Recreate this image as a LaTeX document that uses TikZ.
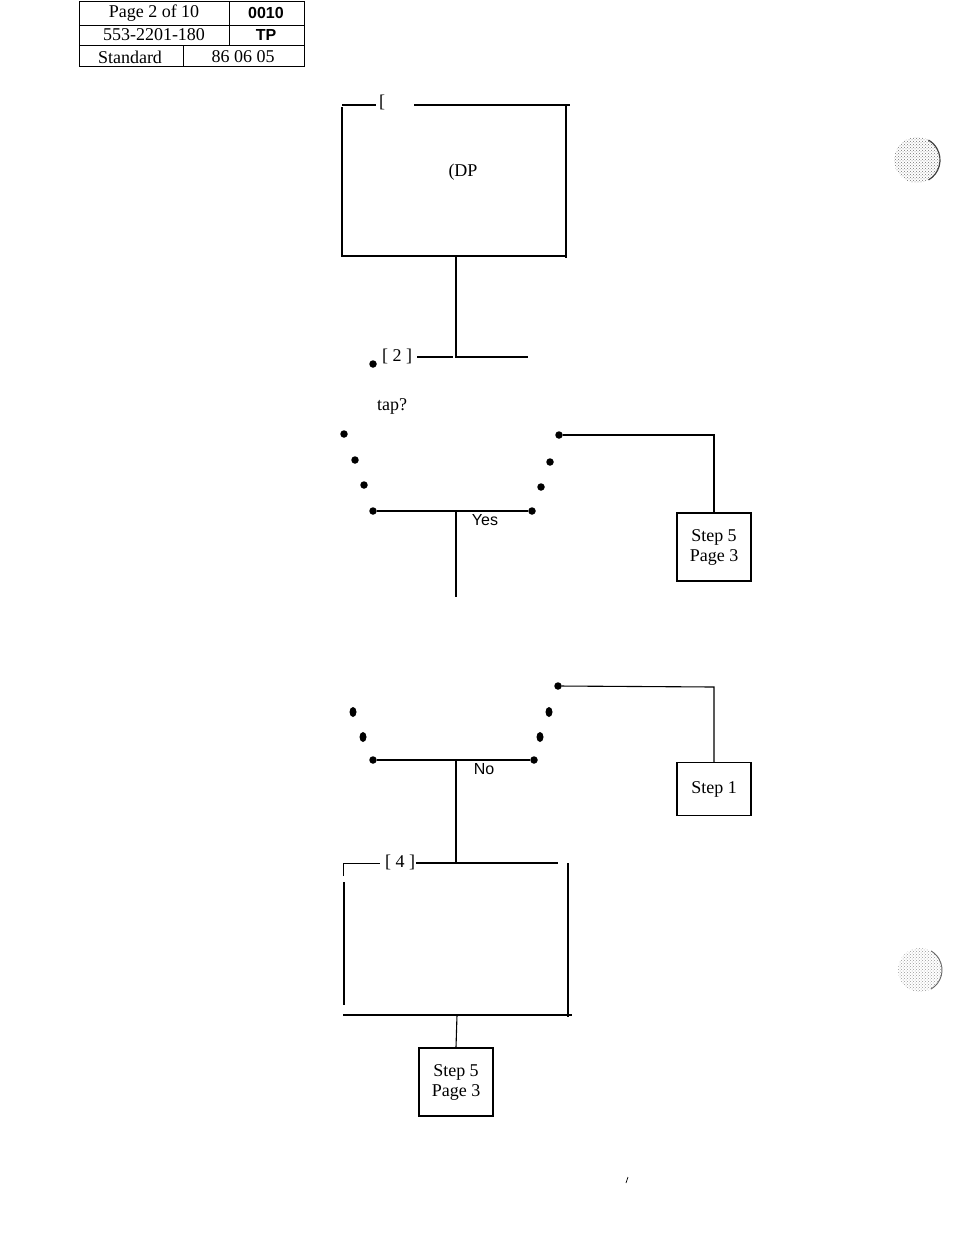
\documentclass[tikz,border=0pt]{standalone}
\usepackage{fontspec}
\setmainfont{Liberation Serif}
\newfontfamily\hsans{Liberation Sans}
\usetikzlibrary{patterns,shapes.geometric}
\begin{document}
\begin{tikzpicture}[x=1pt,y=-1pt,
  txt/.style={font=\fontsize{18}{20}\selectfont, inner sep=0pt},
  stxt/.style={font=\hsans\fontsize{16}{18}\selectfont, inner sep=0pt},
  htxt/.style={font=\hsans\bfseries\fontsize{16}{18}\selectfont, inner sep=0pt},
  stepbox/.style={draw, line width=1.2pt, minimum width=74pt, minimum height=68pt, inner sep=0pt, align=center, font=\fontsize{18}{20}\selectfont},
  ln/.style={line width=1.1pt},
  thk/.style={line width=2pt},
  dotn/.style={circle, fill=black, inner sep=0pt, minimum size=7.5pt},
  edot/.style={ellipse, fill=black, inner sep=0pt, minimum width=7pt, minimum height=10pt}]
\useasboundingbox (0,0) rectangle (956,1235);
% header table
\draw[line width=1pt] (79,1) rectangle (304,66);
\draw[line width=1pt] (79,25) -- (304,25) (79,45) -- (304,45);
\draw[line width=1pt] (229,1) -- (229,45) (183,45) -- (183,66);
\node[txt] (h1) at (154,13) {Page 2 of 10};
\node[htxt] (h2) at (266,13) {0010};
\node[txt] (h3) at (154,35) {553-2201-180};
\node[htxt] (h4) at (266,35) {TP};
\node[txt] (h5) at (130,57) {Standard};
\node[txt] (h6) at (243,57) {86 06 05};
% top box
\draw[thk] (342,105) -- (376,105);
\node[txt] (b1lab) at (382,102) {[};
\draw[thk] (414,105) -- (570,105);
\draw[thk] (566,105) -- (566,258);
\draw[ln] (342,107) -- (342,256) -- (566,256);
\node[txt] (b1t) at (463,172) {(DP};
\coordinate (b1b) at (456,256);
% decision 2
\coordinate (j2) at (456,357);
\draw[ln] (b1b) -- (j2) -- (528,357);
\draw[thk] (417,357) -- (453,357);
\node[txt] (d2lab) at (397,356) {[ 2 ]};
\node[dotn] (d2dot) at (373,364) {};
\node[txt] (tap) at (392,406) {tap?};
\node[dotn] (l1) at (344,434) {};
\node[dotn] (l2) at (355,460) {};
\node[dotn] (l3) at (364,485) {};
\node[dotn] (l4) at (373,511) {};
\node[dotn] (r1) at (559,435) {};
\node[dotn] (r2) at (550,462) {};
\node[dotn] (r3) at (541,487) {};
\node[dotn] (r4) at (532,511) {};
\draw[ln] (l4) -- (r4);
\node[stxt] (yes) at (485,520) {Yes};
\node[stepbox] (s5a) at (714,547) {Step 5\\Page 3};
\draw[ln] (r1) -- (714,435) -- (s5a.north);
\coordinate (yesb) at (456,597);
\draw[ln] (456,511) -- (yesb);
% decision 3
\node[dotn] (m1) at (558,686) {};
\node[edot] (n1) at (353,712) {};
\node[edot] (n2) at (363,737) {};
\node[dotn] (n3) at (373,760) {};
\node[edot] (p1) at (549,712) {};
\node[edot] (p2) at (540,737) {};
\node[dotn] (p3) at (534,760) {};
\draw[ln] (n3) -- (p3);
\node[stxt] (no) at (484,769) {No};
\node[stepbox, minimum height=53pt] (s1) at (714,789) {Step 1};
\draw[ln] (m1) -- (714,687) -- (s1.north);
\coordinate (b2t) at (456,863);
\draw[ln] (456,759) -- (b2t);
% bottom box
\draw[line width=0.8pt] (343,876) -- (343,863) -- (380,863);
\node[txt] (b2lab) at (400,862) {[ 4 ]};
\draw[thk] (416,863) -- (558,863);
\draw[thk] (344,882) -- (344,1005);
\draw[thk] (568,863) -- (568,1017);
\draw[ln] (343,1015) -- (572,1015);
\node[stepbox] (s5b) at (456,1082) {Step 5\\Page 3};
\draw[ln] (457,1015) -- (s5b.north);
% stray mark
\draw[line width=0.7pt] (626,1183) -- (628,1177);
% punch holes
\fill[pattern=crosshatch dots, pattern color=black!55] (917,160) circle (23);
\draw[line width=1.2pt, black!75] (917,160) ++(60:23) arc (60:-60:23);
\fill[pattern=crosshatch dots, pattern color=black!40] (920,970) circle (22);
\draw[line width=0.9pt, black!60] (920,970) ++(60:22) arc (60:-60:22);
\end{tikzpicture}
\end{document}
